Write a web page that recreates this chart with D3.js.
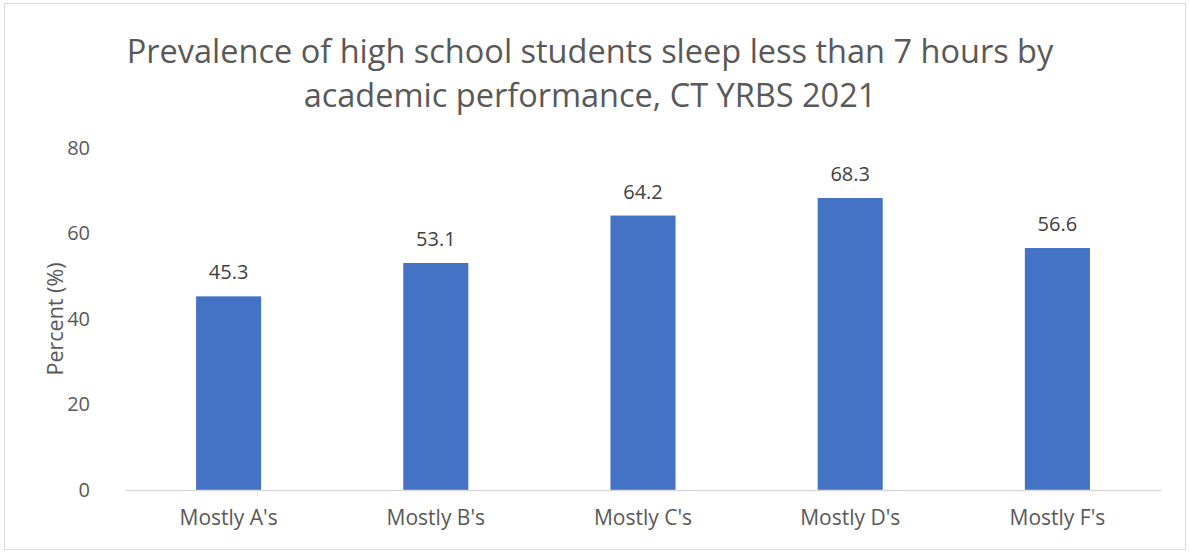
<!DOCTYPE html>
<html>
<head>
<meta charset="utf-8">
<script src="https://cdn.jsdelivr.net/npm/d3@7"></script>
<style>
  body { margin: 0; background: #fff; }
  text { font-family: "Open Sans", sans-serif; }
</style>
</head>
<body>
<div id="chart"></div>
<script>
// chart data
var categories = ["Mostly A's", "Mostly B's", "Mostly C's", "Mostly D's", "Mostly F's"];
var values = [45.3, 53.1, 64.2, 68.3, 56.6];
var yTicks = [0, 20, 40, 60, 80];
var titleLines = ["Prevalence of high school students sleep less than 7 hours by",
                  "academic performance, CT YRBS 2021"];

// dimensions
var W = 1189, H = 552;
var margin = { top: 148, right: 28, bottom: 62, left: 125 },
    width = W - margin.left - margin.right,
    height = H - margin.top - margin.bottom;

var svg = d3.select("#chart").append("svg")
    .attr("width", W)
    .attr("height", H);

// outer border
svg.append("rect")
    .attr("x", 4.5).attr("y", 3.5)
    .attr("width", W - 8).attr("height", H - 6)
    .attr("fill", "#fff")
    .attr("stroke", "#d9d9d9");

// title
svg.append("text")
    .attr("text-anchor", "middle")
    .attr("fill", "#595959")
    .style("font-size", "32.5px")
    .selectAll("tspan")
    .data(titleLines)
    .enter().append("tspan")
    .attr("x", 590)
    .attr("y", function (d, i) { return 63 + i * 44; })
    .text(function (d) { return d; });

var g = svg.append("g")
    .attr("transform", "translate(" + margin.left + "," + margin.top + ")");

// scales
var x = d3.scaleBand()
    .domain(categories)
    .range([0, width])
    .paddingInner(0.686)
    .paddingOuter(0.343);

var y = d3.scaleLinear()
    .domain([0, 80])
    .range([height, 0]);

// y axis (labels only)
var yAxis = g.append("g")
    .call(d3.axisLeft(y).tickValues(yTicks).tickSize(0).tickPadding(35));
yAxis.select(".domain").remove();
yAxis.selectAll("text")
    .attr("fill", "#595959")
    .style("font-size", "20px")
    .style("font-family", "'Open Sans', sans-serif");

// y axis title
svg.append("text")
    .attr("transform", "translate(55," + (margin.top + height / 2) + ") rotate(-90)")
    .attr("text-anchor", "middle")
    .attr("dy", "0.35em")
    .attr("fill", "#595959")
    .style("font-size", "21.5px")
    .text("Percent (%)");

// bars
g.append("g").selectAll("rect")
    .data(values)
    .enter().append("rect")
    .attr("x", function (d, i) { return x(categories[i]); })
    .attr("y", function (d) { return y(d); })
    .attr("width", x.bandwidth())
    .attr("height", function (d) { return height - y(d); })
    .attr("fill", "#4472c4");

// baseline
var xAxis = g.append("g")
    .attr("transform", "translate(0," + height + ")")
    .call(d3.axisBottom(x).tickSize(0).tickPadding(20));
xAxis.select(".domain").attr("stroke", "#d9d9d9").attr("stroke-width", 1.5);
xAxis.selectAll("text")
    .attr("fill", "#595959")
    .style("font-size", "21px")
    .style("font-family", "'Open Sans', sans-serif");

// value labels
g.append("g").selectAll("text")
    .data(values)
    .enter().append("text")
    .attr("x", function (d, i) { return x(categories[i]) + x.bandwidth() / 2; })
    .attr("y", function (d) { return y(d) - 17; })
    .attr("text-anchor", "middle")
    .attr("fill", "#404040")
    .style("font-size", "20px")
    .text(function (d) { return d3.format(".1f")(d); });
</script>
</body>
</html>
